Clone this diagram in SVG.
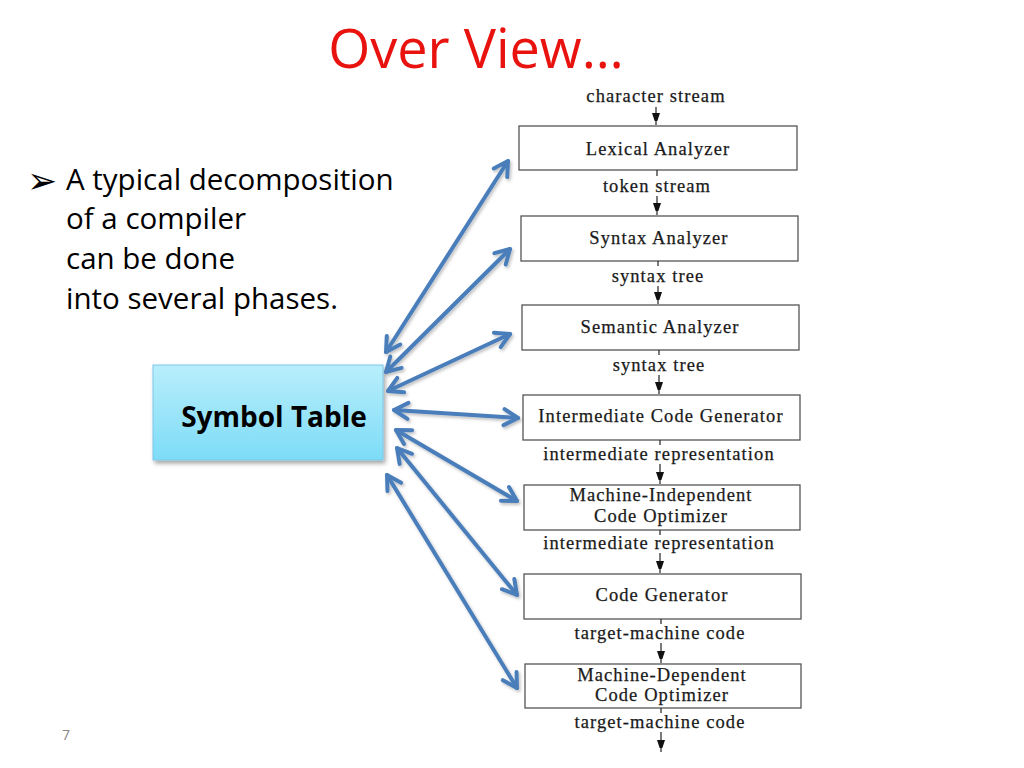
<svg xmlns="http://www.w3.org/2000/svg" width="1024" height="768" viewBox="0 0 1024 768">
<defs>
<linearGradient id="stGrad" x1="0" y1="0" x2="0" y2="1">
<stop offset="0" stop-color="#b8eefc"/>
<stop offset="1" stop-color="#7ddcf7"/>
</linearGradient>
<filter id="shadow" x="-20%" y="-20%" width="140%" height="140%">
<feDropShadow dx="2" dy="3" stdDeviation="2" flood-color="#000" flood-opacity="0.35"/>
</filter>
<filter id="ashadow" x="-20%" y="-20%" width="140%" height="140%">
<feDropShadow dx="1.5" dy="2" stdDeviation="1.5" flood-color="#000" flood-opacity="0.25"/>
</filter>
<marker id="blueHead" markerUnits="userSpaceOnUse" viewBox="0 0 22 22" markerWidth="22" markerHeight="22" refX="19" refY="11" orient="auto-start-reverse">
<path d="M5,3 L19,11 L5,19" fill="none" stroke="#4a7ebb" stroke-width="4" stroke-linecap="round" stroke-linejoin="round"/>
</marker>
<marker id="smallHead" markerUnits="userSpaceOnUse" viewBox="0 0 8 12" markerWidth="8" markerHeight="12" refX="12" refY="4" orient="auto">
<path d="M0,0 L12,4 L0,8 Z" fill="#111"/>
</marker>
<style>
.title{font-family:"Open Sans","Liberation Sans",sans-serif;font-size:54px;fill:#e8130f;}
.bullet{font-family:"Open Sans","Liberation Sans",sans-serif;font-size:29.5px;fill:#000;}
.st{font-family:"Open Sans","Liberation Sans",sans-serif;font-size:28px;font-weight:bold;fill:#000;}
.box{fill:#fff;stroke:#555;stroke-width:1.3;}
.bt{font-family:"Liberation Serif","DejaVu Serif",serif;font-size:18.5px;letter-spacing:1.1px;fill:#1a1a1a;stroke:#1a1a1a;stroke-width:0.25;text-anchor:middle;}
.lbl{font-family:"Liberation Serif","DejaVu Serif",serif;font-size:18.5px;letter-spacing:1.1px;fill:#1a1a1a;stroke:#1a1a1a;stroke-width:0.25;text-anchor:middle;}
.flow{stroke:#222;stroke-width:1.2;fill:none;}
.blue{stroke:#4a7ebb;stroke-width:4;fill:none;stroke-linecap:round;marker-start:url(#blueHead);marker-end:url(#blueHead);}
.pg{font-family:"Open Sans","Liberation Sans",sans-serif;font-size:14px;fill:#888;}
</style>
</defs>
<rect width="1024" height="768" fill="#fff"/>

<text class="title" x="476" y="68" text-anchor="middle">Over View…</text>

<g id="bullet-text">
<text x="27" y="193" font-family="DejaVu Sans,sans-serif" font-size="36" fill="#000">➢</text>
<text class="bullet" x="66" y="190">A typical decomposition</text>
<text class="bullet" x="66" y="229">of a compiler</text>
<text class="bullet" x="66" y="269">can be done</text>
<text class="bullet" x="66" y="309">into several phases.</text>
</g>

<g id="symbol-table">
<rect x="153" y="365" width="230" height="95" fill="url(#stGrad)" stroke="#7cc6e8" stroke-width="1" filter="url(#shadow)"/>
<text class="st" x="274" y="427" text-anchor="middle">Symbol Table</text>
</g>

<g id="lexical">
<rect class="box" x="519" y="126" width="278" height="44"/>
<text class="bt" x="658" y="155">Lexical Analyzer</text>
</g>
<g id="syntax">
<rect class="box" x="521" y="216" width="277" height="45"/>
<text class="bt" x="659" y="244">Syntax Analyzer</text>
</g>
<g id="semantic">
<rect class="box" x="522" y="305" width="277" height="45"/>
<text class="bt" x="660" y="333">Semantic Analyzer</text>
</g>
<g id="icg">
<rect class="box" x="523" y="395" width="277" height="45"/>
<text class="bt" x="661" y="422">Intermediate Code Generator</text>
</g>
<g id="mico">
<rect class="box" x="524" y="485" width="276" height="45"/>
<text class="bt" x="661" y="501">Machine-Independent</text>
<text class="bt" x="661" y="522">Code Optimizer</text>
</g>
<g id="cg">
<rect class="box" x="524" y="574" width="277" height="45"/>
<text class="bt" x="662" y="601">Code Generator</text>
</g>
<g id="mdco">
<rect class="box" x="525" y="664" width="276" height="44"/>
<text class="bt" x="662" y="681">Machine-Dependent</text>
<text class="bt" x="662" y="701">Code Optimizer</text>
</g>

<g id="flow-labels">
<text class="lbl" x="656" y="102">character stream</text>
<text class="lbl" x="657" y="192">token stream</text>
<text class="lbl" x="658" y="282">syntax tree</text>
<text class="lbl" x="659" y="371">syntax tree</text>
<text class="lbl" x="659" y="460">intermediate representation</text>
<text class="lbl" x="659" y="549">intermediate representation</text>
<text class="lbl" x="660" y="639">target-machine code</text>
<text class="lbl" x="660" y="728">target-machine code</text>
</g>

<g id="connectors">
<line class="flow" x1="656" y1="107" x2="656" y2="125" marker-end="url(#smallHead)"/>
<line class="flow" x1="657" y1="170" x2="657" y2="176"/>
<line class="flow" x1="657" y1="196" x2="657" y2="215" marker-end="url(#smallHead)"/>
<line class="flow" x1="658" y1="261" x2="658" y2="266"/>
<line class="flow" x1="658" y1="286" x2="658" y2="304" marker-end="url(#smallHead)"/>
<line class="flow" x1="659" y1="350" x2="659" y2="355"/>
<line class="flow" x1="659" y1="375" x2="659" y2="394" marker-end="url(#smallHead)"/>
<line class="flow" x1="660" y1="440" x2="660" y2="445"/>
<line class="flow" x1="660" y1="464" x2="660" y2="484" marker-end="url(#smallHead)"/>
<line class="flow" x1="660" y1="530" x2="660" y2="535"/>
<line class="flow" x1="660" y1="553" x2="660" y2="573" marker-end="url(#smallHead)"/>
<line class="flow" x1="661" y1="619" x2="661" y2="624"/>
<line class="flow" x1="661" y1="643" x2="661" y2="663" marker-end="url(#smallHead)"/>
<line class="flow" x1="661" y1="708" x2="661" y2="713"/>
<line class="flow" x1="661" y1="732" x2="661" y2="752" marker-end="url(#smallHead)"/>

<g filter="url(#ashadow)">
<line class="blue" x1="386" y1="352" x2="508" y2="161"/>
<line class="blue" x1="386" y1="372" x2="510" y2="249"/>
<line class="blue" x1="388" y1="391" x2="510" y2="334"/>
<line class="blue" x1="394" y1="410" x2="518" y2="418"/>
<line class="blue" x1="396" y1="430" x2="517" y2="501"/>
<line class="blue" x1="397" y1="448" x2="517" y2="595"/>
<line class="blue" x1="387" y1="475" x2="517" y2="688"/>
</g>
</g>

<text class="pg" x="62" y="740">7</text>
</svg>
